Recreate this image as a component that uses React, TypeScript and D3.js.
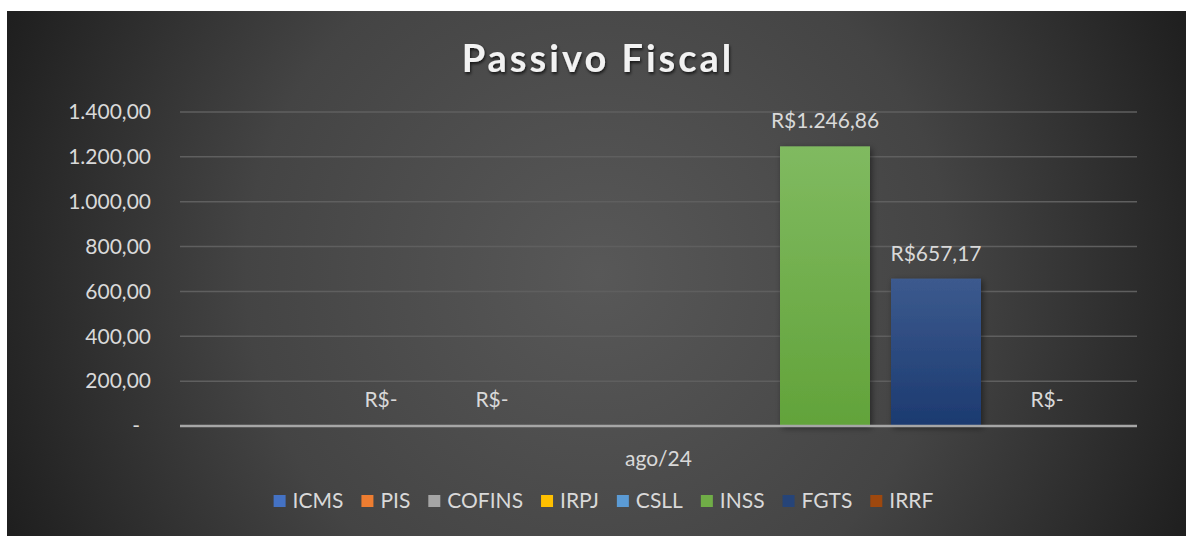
import React, { useEffect, useRef } from "react";
import * as d3 from "d3";

const categories = ["ago/24"];
const seriesNames = ["ICMS", "PIS", "COFINS", "IRPJ", "CSLL", "INSS", "FGTS", "IRRF"];
const seriesValues: (number | null)[] = [null, 0, 0, null, null, 1246.86, 657.17, 0];
const seriesColors = ["#4472C4", "#ED7D31", "#A5A5A5", "#FFC000", "#5B9BD5", "#70AD47", "#264478", "#9E480E"];
const seriesTopColors = ["#5A86D0", "#F09050", "#B5B5B5", "#FFCC33", "#74ADDD", "#80BA60", "#3C5A8E", "#B05A20"];
const seriesBottomColors = ["#3B66B5", "#E06E20", "#999999", "#F2B400", "#4A8CC8", "#62A33A", "#1C3A70", "#8E3E08"];
const yTicks = [0, 200, 400, 600, 800, 1000, 1200, 1400];
const title = "Passivo Fiscal";

const W = 1186;
const H = 536;
const FONT = "Lato, 'Open Sans', sans-serif";

export default function App() {
  const ref = useRef<SVGSVGElement | null>(null);

  useEffect(() => {
    const svg = d3.select(ref.current);
    svg.selectAll("*").remove();

    const locale = d3.formatLocale({ decimal: ",", thousands: ".", grouping: [3], currency: ["R$", ""] });
    const fmt = locale.format(",.2f");

    const defs = svg.append("defs");
    const rg = defs
      .append("radialGradient")
      .attr("id", "bg")
      .attr("gradientUnits", "userSpaceOnUse")
      .attr("cx", 598)
      .attr("cy", 275)
      .attr("r", 640);
    rg.append("stop").attr("offset", "0%").attr("stop-color", "#585858");
    rg.append("stop").attr("offset", "55%").attr("stop-color", "#444444");
    rg.append("stop").attr("offset", "100%").attr("stop-color", "#1f1f1f");

    seriesNames.forEach((s, i) => {
      const lg = defs.append("linearGradient").attr("id", "bar" + i).attr("x1", 0).attr("y1", 0).attr("x2", 0).attr("y2", 1);
      lg.append("stop").attr("offset", "0%").attr("stop-color", seriesTopColors[i]);
      lg.append("stop").attr("offset", "100%").attr("stop-color", seriesBottomColors[i]);
    });

    const sh = defs.append("filter").attr("id", "shadow").attr("x", "-20%").attr("y", "-20%").attr("width", "140%").attr("height", "140%");
    sh.append("feDropShadow").attr("dx", 2).attr("dy", 2).attr("stdDeviation", 3).attr("flood-color", "#000").attr("flood-opacity", 0.45);
    const tsh = defs.append("filter").attr("id", "tshadow").attr("x", "-10%").attr("y", "-30%").attr("width", "120%").attr("height", "160%");
    tsh.append("feDropShadow").attr("dx", 1).attr("dy", 2).attr("stdDeviation", 1.5).attr("flood-color", "#000").attr("flood-opacity", 0.7);

    svg.append("rect").attr("x", 7).attr("y", 11).attr("width", W - 7).attr("height", H - 11).attr("fill", "url(#bg)");

    const plotLeft = 180;
    const plotRight = 1137;
    const plotTop = 112;
    const plotBottom = 426;

    const y = d3.scaleLinear().domain([0, 1400]).range([plotBottom, plotTop]);
    const x0 = d3.scaleBand().domain(categories).range([plotLeft, plotRight]).padding(0);
    const x1 = d3
      .scaleBand()
      .domain(seriesNames)
      .range([0, x0.bandwidth()])
      .paddingInner(21 / 111)
      .paddingOuter(0.4054);

    // gridlines
    svg
      .append("g")
      .selectAll("line")
      .data(yTicks.filter((t) => t !== 0))
      .join("line")
      .attr("x1", plotLeft)
      .attr("x2", plotRight)
      .attr("y1", (d) => y(d))
      .attr("y2", (d) => y(d))
      .attr("stroke", "#5f5f5f")
      .attr("stroke-width", 1.5);

    // y tick labels
    svg
      .append("g")
      .selectAll("text")
      .data(yTicks)
      .join("text")
      .attr("x", (d) => (d === 0 ? 140 : 151))
      .attr("y", (d) => y(d))
      .attr("dy", "0.35em")
      .attr("text-anchor", "end")
      .attr("fill", "#d9d9d9")
      .attr("font-family", FONT)
      .attr("font-size", 21)
      .text((d) => (d === 0 ? "-" : fmt(d)));

    // bars
    categories.forEach((cat) => {
      const g = svg.append("g").attr("transform", `translate(${x0(cat)},0)`);
      seriesNames.forEach((s, i) => {
        const v = seriesValues[i];
        if (v === null) return;
        if (v > 0) {
          g.append("rect")
            .attr("x", x1(s)!)
            .attr("y", y(v))
            .attr("width", x1.bandwidth())
            .attr("height", y(0) - y(v))
            .attr("fill", `url(#bar${i})`)
            .attr("filter", "url(#shadow)");
        }
      });
      seriesNames.forEach((s, i) => {
        const v = seriesValues[i];
        if (v === null) return;
        g.append("text")
          .attr("x", x1(s)! + x1.bandwidth() / 2)
          .attr("y", y(v) - (v > 0 ? 18 : 19))
          .attr("text-anchor", "middle")
          .attr("fill", "#d9d9d9")
          .attr("font-family", FONT)
          .attr("font-size", 21)
          .text(v === 0 ? "R$-" : "R$" + fmt(v));
      });
    });

    // baseline
    svg
      .append("line")
      .attr("x1", plotLeft)
      .attr("x2", plotRight)
      .attr("y1", y(0))
      .attr("y2", y(0))
      .attr("stroke", "#a6a6a6")
      .attr("stroke-width", 2.5);

    // category label
    svg
      .append("g")
      .selectAll("text")
      .data(categories)
      .join("text")
      .attr("x", (d) => x0(d)! + x0.bandwidth() / 2)
      .attr("y", 466)
      .attr("text-anchor", "middle")
      .attr("fill", "#d9d9d9")
      .attr("font-family", FONT)
      .attr("font-size", 21)
      .text((d) => d);

    // title
    svg
      .append("text")
      .attr("x", 598)
      .attr("y", 72)
      .attr("text-anchor", "middle")
      .attr("fill", "#f2f2f2")
      .attr("font-family", FONT)
      .attr("font-weight", 700)
      .attr("font-size", 38)
      .attr("letter-spacing", 3)
      .attr("filter", "url(#tshadow)")
      .text(title);

    // legend
    const legend = svg.append("g");
    const items = seriesNames.map((s, i) => {
      const g = legend.append("g");
      g.append("rect").attr("x", 0).attr("y", -6).attr("width", 12).attr("height", 12).attr("fill", seriesColors[i]);
      const t = g
        .append("text")
        .attr("x", 19)
        .attr("y", 0)
        .attr("dy", "0.35em")
        .attr("fill", "#d9d9d9")
        .attr("font-family", FONT)
        .attr("font-size", 21)
        .text(s);
      const w = (t.node() as SVGTextElement).getComputedTextLength();
      return { g, w: 19 + w };
    });
    const gap = 18;
    const total = d3.sum(items, (d) => d.w) + gap * (items.length - 1);
    let cx = 603.5 - total / 2;
    items.forEach((it) => {
      it.g.attr("transform", `translate(${cx},501)`);
      cx += it.w + gap;
    });
  }, []);

  return (
    <svg
      ref={ref}
      width={W}
      height={H}
      style={{ position: "absolute", left: 0, top: 0, display: "block", background: "#ffffff" }}
    />
  );
}
